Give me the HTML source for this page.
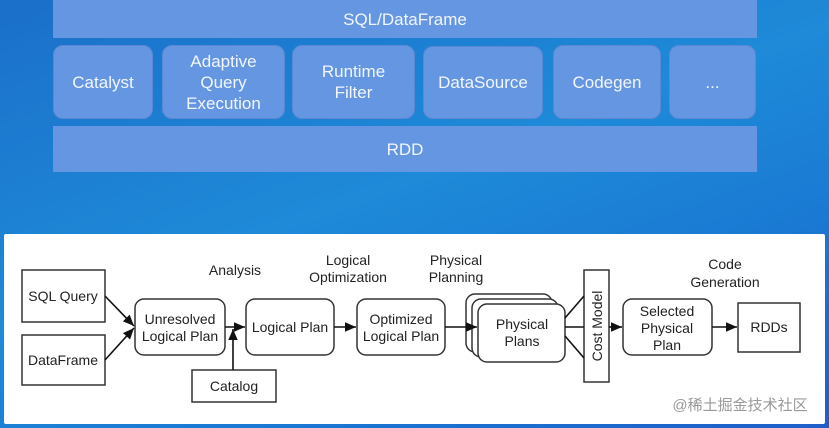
<!DOCTYPE html>
<html><head><style>
body{margin:0;width:829px;height:428px;overflow:hidden;font-family:"Liberation Sans","Noto Sans CJK SC",sans-serif;
background:linear-gradient(160deg,#1b6fc9 0%,#1e8ad8 45%,#1a7ad3 70%,#1f5ec9 100%);position:relative}
.b{position:absolute;background:#6596e2;color:#f2f6ff;display:flex;align-items:center;justify-content:center;text-align:center;font-size:17px;line-height:21px;box-sizing:border-box}
.m{border-radius:10px;border:1px solid #5a88d4}
#panel{position:absolute;left:4px;top:234px;width:821px;height:190px;background:#fff;border-radius:2px}
svg{position:absolute;left:0;top:0}
</style></head><body>
<div class="b" style="left:53px;top:0;width:704px;height:38px">SQL/DataFrame</div>
<div class="b m" style="left:53px;top:45px;width:100px;height:74px">Catalyst</div>
<div class="b m" style="left:162px;top:45px;width:123px;height:74px">Adaptive<br>Query<br>Execution</div>
<div class="b m" style="left:292px;top:45px;width:123px;height:74px">Runtime<br>Filter</div>
<div class="b m" style="left:423px;top:46px;width:120px;height:73px">DataSource</div>
<div class="b m" style="left:553px;top:45px;width:108px;height:74px">Codegen</div>
<div class="b m" style="left:669px;top:45px;width:87px;height:74px">...</div>
<div class="b" style="left:53px;top:126px;width:704px;height:46px">RDD</div>
<div id="panel"></div>
<svg width="829" height="428" font-family="Liberation Sans,sans-serif" font-size="14" text-anchor="middle" fill="#222">
<defs><marker id="a" markerWidth="8" markerHeight="8" refX="7" refY="4" orient="auto"><path d="M0,1 L7,4 L0,7z" fill="#111"/></marker></defs>
<g fill="#fff" stroke="#333" stroke-width="1.5">
<rect x="22" y="270" width="83" height="52"/>
<rect x="22" y="335" width="83" height="50"/>
<rect x="135" y="299" width="90" height="56" rx="9"/>
<rect x="246" y="299" width="88" height="56" rx="9"/>
<rect x="357" y="299" width="88" height="56" rx="9"/>
<rect x="466" y="294" width="86" height="58" rx="9"/>
<rect x="472" y="299" width="86" height="58" rx="9"/>
<rect x="478" y="304" width="87" height="58" rx="9"/>
<rect x="584" y="270" width="25" height="112"/>
<rect x="623" y="299" width="89" height="56" rx="9"/>
<rect x="738" y="303" width="62" height="49"/>
<rect x="192" y="370" width="84" height="32"/>
</g>
<g stroke="#111" stroke-width="1.6" fill="none">
<line x1="105" y1="296" x2="134" y2="326" marker-end="url(#a)"/>
<line x1="105" y1="360" x2="134" y2="328" marker-end="url(#a)"/>
<line x1="225" y1="327" x2="245" y2="327" marker-end="url(#a)"/>
<line x1="233" y1="370" x2="233" y2="329" marker-end="url(#a)"/>
<line x1="334" y1="327" x2="356" y2="327" marker-end="url(#a)"/>
<line x1="445" y1="327" x2="477" y2="327" marker-end="url(#a)"/>
<line x1="565" y1="318" x2="584" y2="296"/>
<line x1="565" y1="327" x2="584" y2="327"/>
<line x1="565" y1="336" x2="584" y2="358"/>
<line x1="609" y1="327" x2="622" y2="327" marker-end="url(#a)"/>
<line x1="712" y1="327" x2="737" y2="327" marker-end="url(#a)"/>
</g>
<text x="63" y="301">SQL Query</text>
<text x="63" y="365">DataFrame</text>
<text x="180" y="324">Unresolved</text><text x="180" y="341">Logical Plan</text>
<text x="290" y="332">Logical Plan</text>
<text x="401" y="324">Optimized</text><text x="401" y="341">Logical Plan</text>
<text x="522" y="329">Physical</text><text x="522" y="346">Plans</text>
<text x="667" y="316">Selected</text><text x="667" y="333">Physical</text><text x="667" y="350">Plan</text>
<text x="769" y="332">RDDs</text>
<text x="234" y="391">Catalog</text>
<text transform="translate(602,326) rotate(-90)">Cost Model</text>
<text x="235" y="275">Analysis</text>
<text x="348" y="265">Logical</text><text x="348" y="282">Optimization</text>
<text x="456" y="265">Physical</text><text x="456" y="282">Planning</text>
<text x="725" y="269">Code</text><text x="725" y="287">Generation</text>
<text x="740" y="410" fill="#999" font-size="15" font-family="Liberation Sans,Noto Sans CJK SC,sans-serif">@稀土掘金技术社区</text>
</svg>
</body></html>
